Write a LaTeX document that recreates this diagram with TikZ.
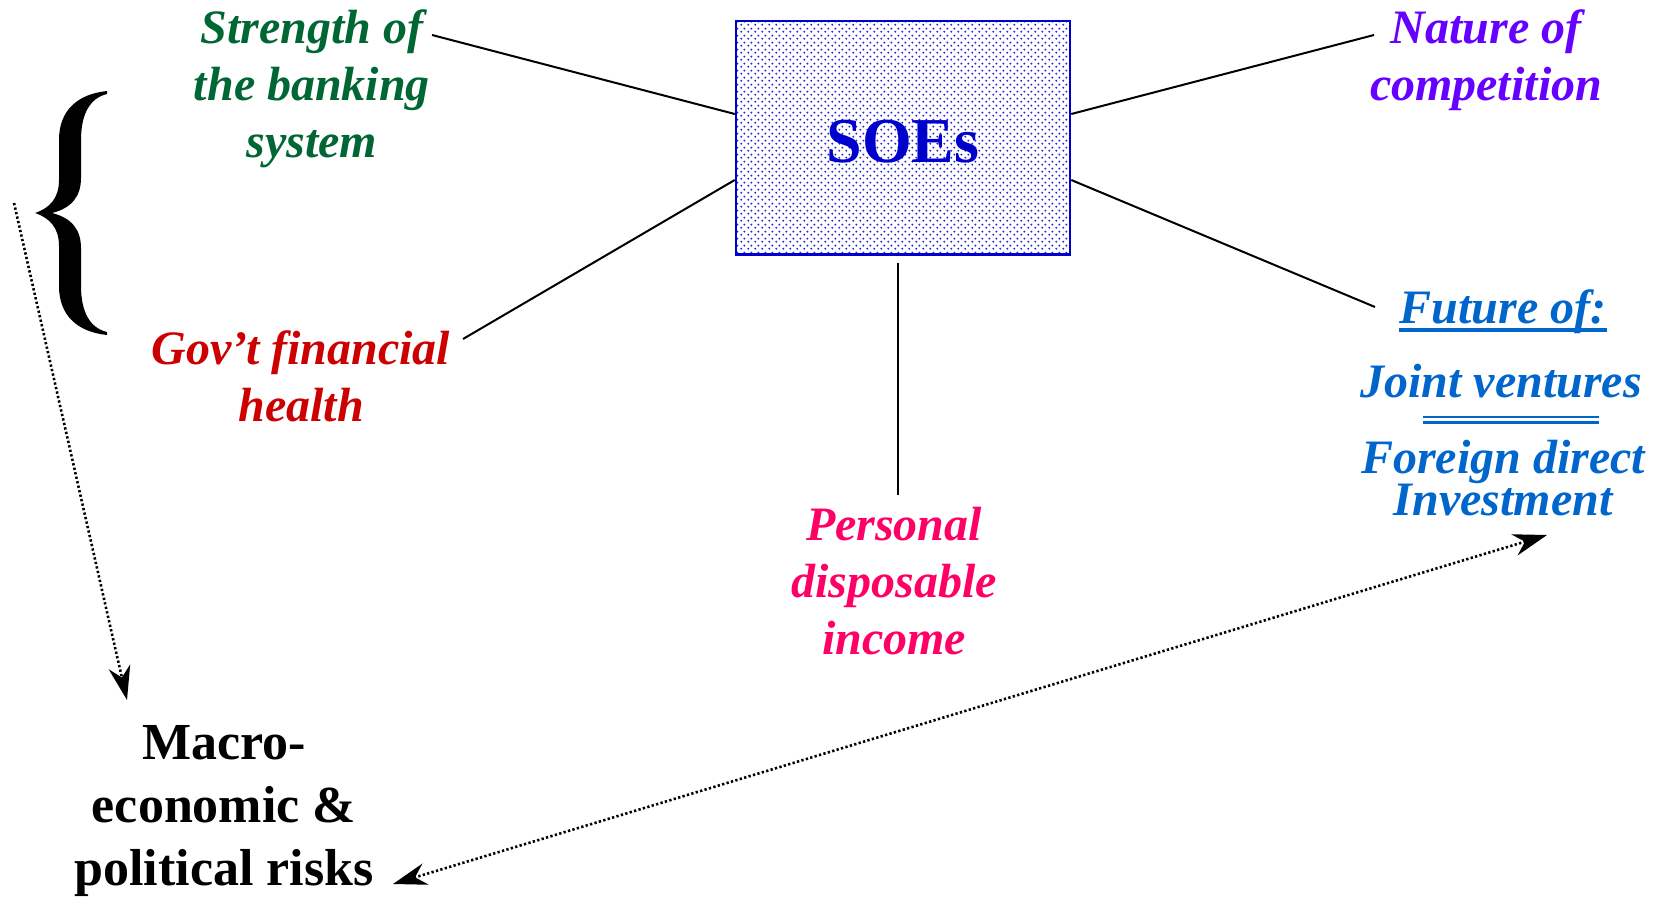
\documentclass[tikz,border=0pt]{standalone}
\usepackage{fontspec}
\setmainfont{Liberation Serif}
\usetikzlibrary{arrows.meta,patterns.meta,calc}

\definecolor{bankgreen}{RGB}{0,102,51}
\definecolor{compviolet}{RGB}{102,0,255}
\definecolor{govred}{RGB}{204,0,0}
\definecolor{incpink}{RGB}{255,0,102}
\definecolor{futblue}{RGB}{0,102,204}
\definecolor{soeblue}{RGB}{0,0,204}
\definecolor{dotblue}{RGB}{40,40,215}

% staggered dot screen for the SOE box
\tikzdeclarepattern{
  name=soedots,
  type=uncolored,
  bottom left={(-1.5pt,-1.5pt)},
  top right={(5.5pt,5.5pt)},
  tile size={(7pt,7pt)},
  code={
    \pgfpathcircle{\pgfpointorigin}{1.25pt}
    \pgfpathcircle{\pgfqpoint{3.5pt}{3.5pt}}{1.25pt}
    \pgfusepath{fill}
  }
}

\tikzset{
  factor/.style={font=\fontsize{48}{57}\selectfont\bfseries\itshape, align=center, inner sep=0pt},
  risktext/.style={font=\fontsize{52}{63}\selectfont\bfseries, align=center, inner sep=0pt},
  spoke/.style={line width=2pt, black},
  dotlink/.style={line width=2.6pt, dash pattern=on 2.3pt off 2.3pt, black},
  dottip/.tip={Stealth[length=34pt, width=22pt, inset=11pt]},
}

\begin{document}
\begin{tikzpicture}[x=1pt, y=-1pt]
\useasboundingbox (0,0) rectangle (1653,899);

% central box
\node[draw=soeblue, line width=2.5pt, pattern=soedots, pattern color=dotblue,
      minimum width=334pt, minimum height=233pt, inner sep=0pt] (soe) at (903,137.75) {};
\node[font=\fontsize{64}{64}\selectfont\bfseries, text=soeblue, anchor=base, inner sep=0pt]
      (soetext) at (903,162) {SOEs};

% factors around the box
\node[factor, text=bankgreen, anchor=north] (bank) at (312,10) {Strength of\\the banking\\system};
\node[factor, text=compviolet, anchor=north] (comp) at (1486,10) {Nature of\\competition};
\node[factor, text=govred, anchor=north] (gov) at (301,330) {Gov’t financial\\health};
\node[factor, text=incpink, anchor=north] (inc) at (894,507) {Personal\\disposable\\income};

\node[factor, text=futblue, anchor=base] (fut) at (1503,323) {Future of:};
\draw[futblue, line width=4pt] ([yshift=-7pt]fut.base west) -- ([yshift=-7pt]fut.base east);
\node[factor, text=futblue, anchor=base] (jv) at (1501,397) {Joint ventures};
\draw[futblue, line width=2.3pt]
  ($(jv.base)+(-78,20)$) -- ($(jv.base)+(98,20)$)
  ($(jv.base)+(-78,25.5)$) -- ($(jv.base)+(98,25.5)$);
\node[factor, font=\fontsize{48}{42}\selectfont\bfseries\itshape, text=futblue, anchor=north]
      (fdi) at (1503,440) {Foreign direct\\Investment};

\node[risktext, anchor=north] (macro) at (224,725) {Macro-\\economic \&\\political risks};

% spokes from the box
\coordinate (bankEnd) at (432,35);
\coordinate (compEnd) at (1374,35);
\coordinate (govEnd) at (463,339);
\coordinate (futEnd) at (1375,307);
\coordinate (incEnd) at (898,495);
\draw[spoke] (soe.west |- 0,114) -- (bankEnd);
\draw[spoke] (soe.west |- 0,180) -- (govEnd);
\draw[spoke] (soe.east |- 0,114) -- (compEnd);
\draw[spoke] (soe.east |- 0,180) -- (futEnd);
\draw[spoke] ($(soe.south)+(-5,7)$) -- (incEnd);

% brace grouping the two left factors
\fill[black]
  (107,91) .. controls (78,94) and (59,110) .. (59,140) -- (59,180)
  .. controls (59,198) and (50,208) .. (35,213)
  .. controls (50,218) and (59,228) .. (59,246) -- (59,286)
  .. controls (59,316) and (78,332) .. (107,335) -- (107,332)
  .. controls (90,328) and (81,312) .. (81,286) -- (81,248)
  .. controls (81,230) and (72,218) .. (52,213)
  .. controls (72,208) and (81,196) .. (81,178) -- (81,140)
  .. controls (81,114) and (90,98) .. (107,94) -- cycle;

% dotted links to the risk node
\coordinate (braceLink) at (14,203);
\coordinate (riskTop) at (127,700);
\coordinate (riskSide) at (393,884);
\coordinate (fdiLink) at (1547,535);
\draw[dotlink, -{dottip}] (braceLink) -- (riskTop);
\draw[dotlink, {dottip}-{dottip}] (riskSide) -- (fdiLink);
\end{tikzpicture}
\end{document}
